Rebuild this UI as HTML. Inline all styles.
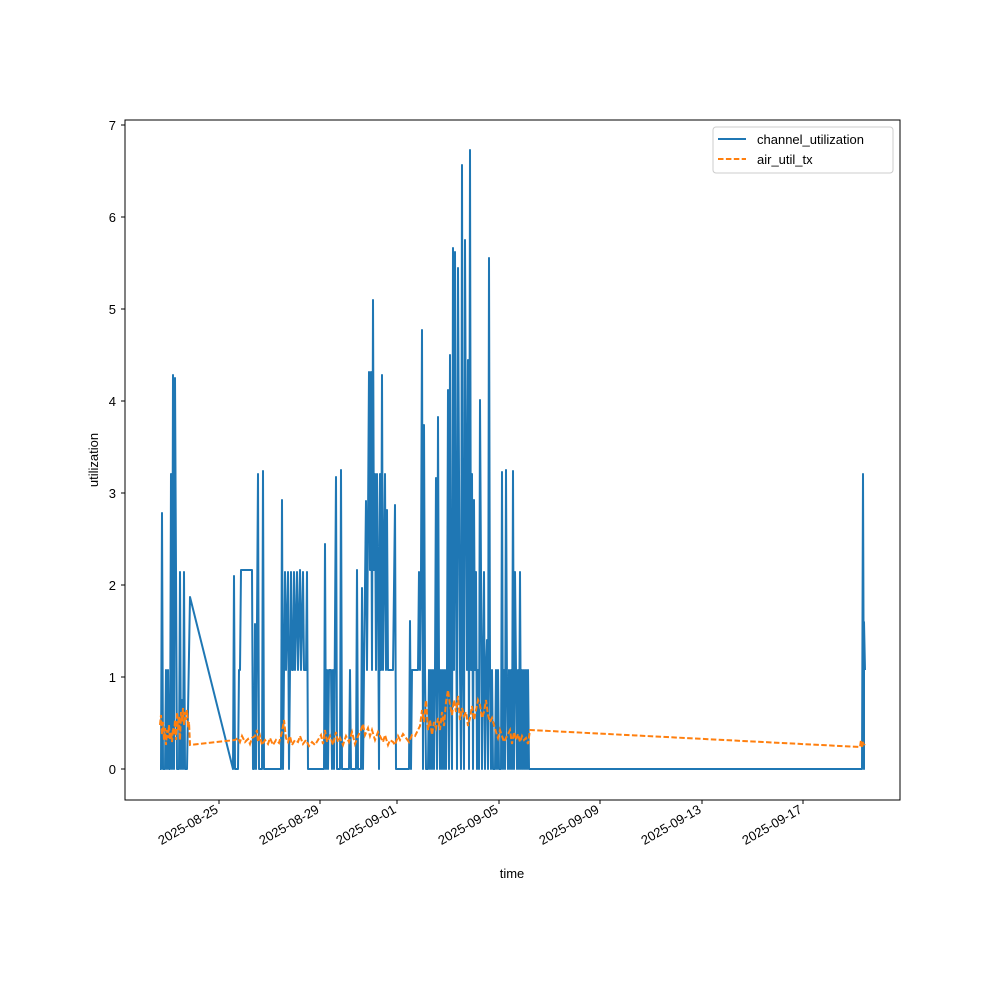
<!DOCTYPE html>
<html><head><meta charset="utf-8"><style>
html,body{margin:0;padding:0;background:#fff;}
svg{display:block;font-family:"Liberation Sans","DejaVu Sans",sans-serif;}
</style></head><body>
<svg width="1000" height="1000" viewBox="0 0 1000 1000" xmlns="http://www.w3.org/2000/svg">
<rect width="1000" height="1000" fill="#fff"/>
<defs><clipPath id="c"><rect x="125" y="120" width="775" height="680"/></clipPath></defs>
<g clip-path="url(#c)">
<polyline fill="none" stroke="#1f77b4" stroke-width="2" stroke-linejoin="round" points="
160,769 161,769 162,513 163,769 165,769 166,670 167,769 168,670 169,769 170,769 171,474 172,769 173,375 174,769 175,378 176,572 177,769 179,769 180,572 181,769 182,700 183,769 184,572 185,769 187,769 190,597 233,769 234,576 235,769 238,769 239,670 240,670 241,570 252,570 253,769 254,769 255,624 256,769 258,474 259,769 262,769 263,471 264,769 281,769 282,500 283,769 285,572 286,670 288,572 289,769 290,670 291,572 292,670 293,670 294,572 295,670 297,572 298,670 300,570 301,670 303,572 304,670 306,670 307,572 308,769 324,769 325,544 326,769 327,670 328,769 329,670 331,670 332,769 333,670 334,769 336,477 337,769 340,769 341,470 342,769 349,769 350,670 351,769 356,769 357,570 358,769 361,769 362,588 363,769 364,670 366,501 367,670 369,372 370,570 371,372 372,670 373,300 374,570 375,474 376,670 377,474 378,570 379,769 380,474 381,670 382,375 383,670 384,570 385,474 386,670 387,510 388,670 393,670 395,505 396,769 409,769 410,621 411,769 412,670 418,670 419,572 420,670 421,572 422,330 423,769 424,425 425,670 426,769 428,769 429,670 430,769 431,670 432,769 433,670 434,769 435,670 436,478 437,769 438,417 439,670 440,769 441,670 442,769 443,670 444,769 445,670 446,769 447,670 448,390 449,769 450,355 451,670 452,769 453,248 454,670 455,252 456,570 457,769 458,268 459,474 460,670 461,769 462,165 463,670 464,769 465,240 466,474 467,670 468,360 469,769 470,150 471,670 472,474 473,769 474,500 475,670 476,572 477,769 478,670 479,769 480,400 481,572 482,769 483,670 484,572 485,769 486,670 487,640 488,769 489,258 490,670 491,769 492,670 493,769 495,769 496,670 497,769 498,670 499,769 501,769 502,472 503,769 504,670 505,769 506,470 507,690 508,769 509,670 510,769 511,670 512,769 513,471 514,769 515,572 516,670 517,769 518,670 519,769 520,572 521,769 522,670 523,769 524,670 525,769 526,670 527,769 528,670 529,769 862,769 863,474 864,769 864,622 865,670"/>
<polyline fill="none" stroke="#ff7f0e" stroke-width="2" stroke-dasharray="5.5,2.4" points="
160,725 161,715 162,735 163,722 164,740 165,728 166,745 167,730 168,738 169,725 170,740 171,732 172,742 173,728 174,735 175,720 176,740 177,712 178,730 179,716 180,740 181,712 182,722 183,708 184,725 185,712 186,720 187,710 188,728 189,722 190,745 235,740 238,738 240,742 242,736 245,742 248,739 250,744 252,738 255,736 257,730 258,742 260,736 262,745 265,740 268,744 270,738 273,745 276,740 279,743 282,732 284,720 286,738 288,742 290,736 292,745 295,740 298,742 300,736 303,744 306,740 309,746 312,742 315,745 318,740 321,735 323,744 325,730 327,742 330,736 333,745 336,732 338,742 340,738 343,745 346,736 349,742 352,732 355,744 358,736 361,730 363,724 365,735 368,728 370,736 372,730 375,740 378,732 380,736 383,742 385,735 388,745 390,740 393,742 395,745 398,736 400,740 403,734 406,738 409,742 412,735 415,736 418,730 420,726 422,710 424,722 426,700 428,730 430,720 432,735 434,722 436,728 438,718 440,730 442,712 444,726 446,702 448,690 450,705 452,715 454,700 456,712 458,696 460,720 462,708 464,716 466,712 468,726 470,718 472,706 474,720 476,710 478,700 480,705 482,718 484,712 486,700 488,715 490,722 492,718 494,725 496,732 498,738 500,730 502,736 504,742 506,738 508,734 510,730 512,744 514,732 516,740 518,734 520,742 522,736 524,740 526,738 528,744 530,730 860,747 861,740 862,748 863,742 864,745 865,744"/>
</g>
<rect x="125" y="120" width="775" height="680" fill="none" stroke="#000" stroke-width="1"/>
<g font-size="13" fill="#000" text-anchor="end">
<g stroke="#000"><line x1="121" y1="769" x2="125" y2="769"/><line x1="121" y1="677" x2="125" y2="677"/><line x1="121" y1="585" x2="125" y2="585"/><line x1="121" y1="493" x2="125" y2="493"/><line x1="121" y1="401" x2="125" y2="401"/><line x1="121" y1="309" x2="125" y2="309"/><line x1="121" y1="217" x2="125" y2="217"/><line x1="121" y1="125" x2="125" y2="125"/></g>
<text x="116" y="774">0</text><text x="116" y="682">1</text><text x="116" y="590">2</text><text x="116" y="498">3</text><text x="116" y="406">4</text><text x="116" y="314">5</text><text x="116" y="222">6</text><text x="116" y="130">7</text>
</g>
<g stroke="#000"><line x1="219" y1="800" x2="219" y2="804"/><line x1="320" y1="800" x2="320" y2="804"/><line x1="397" y1="800" x2="397" y2="804"/><line x1="499" y1="800" x2="499" y2="804"/><line x1="600" y1="800" x2="600" y2="804"/><line x1="702" y1="800" x2="702" y2="804"/><line x1="803" y1="800" x2="803" y2="804"/></g>
<g font-size="13" fill="#000" text-anchor="end">
<text transform="translate(219,812) rotate(-30)">2025-08-25</text>
<text transform="translate(320,812) rotate(-30)">2025-08-29</text>
<text transform="translate(397,812) rotate(-30)">2025-09-01</text>
<text transform="translate(499,812) rotate(-30)">2025-09-05</text>
<text transform="translate(600,812) rotate(-30)">2025-09-09</text>
<text transform="translate(702,812) rotate(-30)">2025-09-13</text>
<text transform="translate(803,812) rotate(-30)">2025-09-17</text>
</g>
<text x="512" y="878" font-size="13" text-anchor="middle">time</text>
<text transform="translate(98,460) rotate(-90)" font-size="13" text-anchor="middle">utilization</text>
<rect x="713" y="127" width="180" height="46" rx="3" fill="#fff" stroke="#ccc"/>
<line x1="718" y1="139" x2="746" y2="139" stroke="#1f77b4" stroke-width="2"/>
<text x="757" y="144" font-size="13">channel_utilization</text>
<line x1="718" y1="159" x2="746" y2="159" stroke="#ff7f0e" stroke-width="2" stroke-dasharray="5.5,2.4"/>
<text x="757" y="164" font-size="13">air_util_tx</text>
</svg>
</body></html>
